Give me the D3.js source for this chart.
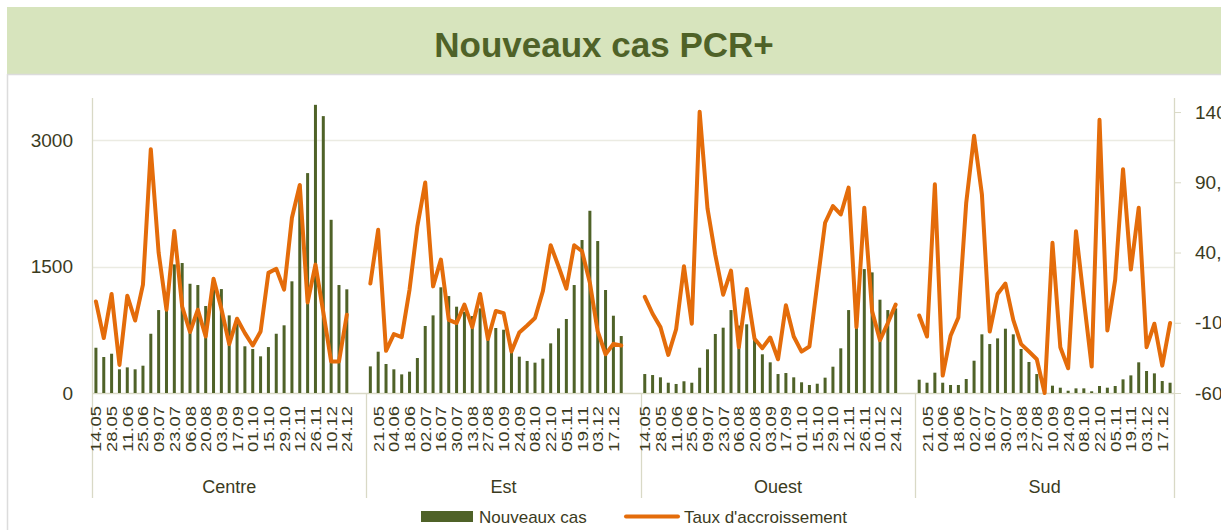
<!DOCTYPE html>
<html>
<head>
<meta charset="utf-8">
<script src="https://cdn.jsdelivr.net/npm/d3@7"></script>
<style>
  body { margin: 0; background: #fff; }
  text { font-family: "Liberation Sans", Arial, sans-serif; }
</style>
</head>
<body>
<div id="container"></div>
<script>

var regions = ["Centre", "Est", "Ouest", "Sud"];

var dates = ["14.05", "21.05", "28.05", "04.06", "11.06", "18.06", "25.06", "02.07", "09.07", "16.07",
    "23.07", "30.07", "06.08", "13.08", "20.08", "27.08", "03.09", "10.09", "17.09", "24.09",
    "01.10", "08.10", "15.10", "22.10", "29.10", "05.11", "12.11", "19.11", "26.11", "03.12",
    "10.12", "17.12", "24.12"];

// nouveaux cas (bars, left axis)
var casCentre = [537, 427, 466, 281, 304, 281, 324, 703, 984, 984, 1526, 1542, 1296, 1281, 1032, 1250, 1233,
    921, 880, 554, 522, 435, 545, 703, 803, 1325, 2475, 2609, 3419, 3285, 2055, 1281, 1230];
var casEst = [316, 490, 344, 281, 221, 253, 415, 795, 921, 1254, 1150, 1024, 964, 913, 1004, 739, 771,
    751, 490, 431, 380, 360, 407, 589, 767, 878, 1281, 1815, 2162, 1803, 1222, 917, 676];
var casOuest = [225, 213, 186, 122, 107, 139, 122, 300, 518, 700, 775, 984, 800, 815, 637, 459, 364,
    225, 237, 186, 127, 95, 110, 182, 312, 530, 984, 1000, 1470, 1431, 1107, 984, 1004];
var casSud = [158, 122, 241, 122, 95, 95, 166, 383, 696, 581, 648, 763, 696, 522, 368, 225, 15,
    87, 63, 27, 55, 55, 20, 83, 63, 83, 162, 209, 364, 261, 233, 142, 122];

// taux d'accroissement (line, right axis, %)
var tauxCentre = [5.2, -20.9, 10.5, -40, 9.3, -8.4, 17.1, 113.6, 39.8, -0.7, 55.4, 1.6, -16.6, -0.7, -19.8, 21.4, 0,
    -25.2, -7.1, -17.4, -26.2, -16.2, 25.5, 28.4, 13.6, 64.8, 88.1, 4.5, 31.4, -2.4, -37.6, -37.6, -4.3];
var tauxEst = [17.9, 56.2, -30, -18.1, -20.2, 13.6, 58.8, 89.8, 15.9, 35, -7.9, -10.2, 2.9, -13.1, 10.5, -21.6, -1.6,
    -3.1, -30.5, -16.9, -11.9, -6.6, 12.4, 45.2, 30.2, 14.3, 45.2, 40.9, 18.4, -16.2, -32.4, -25, -26.2];
var tauxOuest = [8.4, -3.6, -13.1, -32.9, -14.6, 30.2, -10.7, 140.2, 71.4, 38.1, 10, 27.1, -27.4, 14.1, -21.4, -28.1, -20.5,
    -36, 2.4, -19.8, -30.5, -26.9, 17.6, 61.2, 73.1, 67.1, 86.2, -13.1, 71.9, -1.9, -22.4, -10.2, 2.9];
var tauxSud = [-4.8, -19.8, 88.6, -47.6, -19.3, -6.2, 75.5, 123.1, 81.4, -16.2, 10.5, 17.9, -7.9, -25.2, -30.5, -36, -60,
    46.9, -27.4, -42.4, 55.2, 6.4, -41.2, 134.5, -15.5, 20.7, 99.3, 27.9, 71.9, -27.4, -10.7, -40.5, -10.2];

var casTicks = [0, 1500, 3000];
var tauxTicks = [-60, -10, 40, 90, 140];

var cas = [casCentre, casEst, casOuest, casSud];
var taux = [tauxCentre, tauxEst, tauxOuest, tauxSud];

var width = 1221,
    height = 530,
    plotLeft = 92,
    plotRight = 1174,
    plotTop = 98,
    plotBottom = 393;

var green = "#4f6228",
    orange = "#e46c0a",
    textColor = "#3b3b1e",
    axisColor = "#d9d9c6",
    gridColor = "#ebebe2";

// two empty slots after each region except the last
var slots = [];
var rows = [];
regions.forEach(function (r, g) {
    var n = dates.length + (g < regions.length - 1 ? 2 : 0);
    for (var i = 0; i < n; i++) {
        var key = r + "-" + i;
        slots.push(key);
        if (i < dates.length) {
            rows.push({ key: key, region: g, index: i, date: dates[i], cas: cas[g][i], taux: taux[g][i] });
        }
    }
});

var x = d3.scaleBand().domain(slots).range([plotLeft, plotRight]).padding(0);
var yCas = d3.scaleLinear().domain([0, 3500]).range([plotBottom, plotTop]);
var yTaux = d3.scaleLinear().domain([-60, 150]).range([plotBottom, plotTop]);

var svg = d3.select("div#container").append("svg")
    .attr("width", width)
    .attr("height", height);

// title banner
svg.append("rect")
    .attr("x", 7).attr("y", 7)
    .attr("width", width - 7).attr("height", 67)
    .attr("fill", "#d7e4bd");
svg.append("line")
    .attr("x1", 7).attr("x2", width)
    .attr("y1", 74.5).attr("y2", 74.5)
    .attr("stroke", "#dcdcdc").attr("stroke-width", 1.5);
svg.append("line")
    .attr("x1", 7.5).attr("x2", 7.5)
    .attr("y1", 74).attr("y2", height)
    .attr("stroke", "#dcdcdc").attr("stroke-width", 1.5);
svg.append("text")
    .attr("x", 604).attr("y", 57)
    .attr("text-anchor", "middle")
    .attr("font-size", 35)
    .attr("font-weight", "bold")
    .attr("fill", green)
    .text("Nouveaux cas PCR+");

// gridlines
svg.append("g")
    .selectAll("line")
    .data(casTicks.slice(1))
    .enter().append("line")
    .attr("x1", plotLeft).attr("x2", plotRight)
    .attr("y1", function (d) { return Math.round(yCas(d)) + 0.5; })
    .attr("y2", function (d) { return Math.round(yCas(d)) + 0.5; })
    .attr("stroke", gridColor).attr("stroke-width", 1.3);

// left axis
var leftAxis = svg.append("g")
    .attr("transform", "translate(" + plotLeft + ",0)")
    .call(d3.axisLeft(yCas).tickValues(casTicks).tickSize(0).tickPadding(19).tickFormat(d3.format("d")));
leftAxis.select(".domain").remove();
leftAxis.selectAll("text")
    .attr("font-size", 19)
    .attr("fill", textColor)
    .style("font-family", "'Liberation Sans', Arial, sans-serif");

// right axis (labels run past the picture edge, as in the original)
var rightAxis = svg.append("g")
    .attr("transform", "translate(" + plotRight + ",0)")
    .call(d3.axisRight(yTaux).tickValues(tauxTicks).tickSize(7).tickPadding(14)
        .tickFormat(function (d) { return d.toFixed(1).replace(".", ",") + "%"; }));
rightAxis.select(".domain").remove();
rightAxis.selectAll("line").attr("stroke", axisColor);
rightAxis.selectAll("text")
    .attr("font-size", 19)
    .attr("fill", textColor)
    .style("font-family", "'Liberation Sans', Arial, sans-serif");

// axis lines
svg.append("line")
    .attr("x1", plotLeft + 0.5).attr("x2", plotLeft + 0.5)
    .attr("y1", plotTop).attr("y2", 498)
    .attr("stroke", axisColor).attr("stroke-width", 1.3);
svg.append("line")
    .attr("x1", plotRight + 0.5).attr("x2", plotRight + 0.5)
    .attr("y1", plotTop).attr("y2", 498)
    .attr("stroke", axisColor).attr("stroke-width", 1.3);
svg.append("line")
    .attr("x1", plotLeft).attr("x2", plotRight)
    .attr("y1", plotBottom + 0.5).attr("y2", plotBottom + 0.5)
    .attr("stroke", axisColor).attr("stroke-width", 1.3);

// region separators and names
var groupStarts = regions.map(function (r) { return x(r + "-0"); });
svg.append("g")
    .selectAll("line")
    .data(groupStarts.slice(1))
    .enter().append("line")
    .attr("x1", function (d) { return Math.round(d) + 0.5; })
    .attr("x2", function (d) { return Math.round(d) + 0.5; })
    .attr("y1", plotBottom).attr("y2", 498)
    .attr("stroke", axisColor).attr("stroke-width", 1.3);

svg.append("g")
    .selectAll("text")
    .data(regions)
    .enter().append("text")
    .attr("x", function (d, i) {
        var end = i < regions.length - 1 ? groupStarts[i + 1] : plotRight;
        return (groupStarts[i] + end) / 2;
    })
    .attr("y", 493)
    .attr("text-anchor", "middle")
    .attr("font-size", 18)
    .attr("fill", textColor)
    .text(function (d) { return d; });

// date labels, every second slot across the whole axis
svg.append("g")
    .selectAll("text")
    .data(rows.filter(function (d) { return slots.indexOf(d.key) % 2 === 0; }))
    .enter().append("text")
    .attr("transform", function (d) {
        return "translate(" + (x(d.key) + x.bandwidth() / 2 + 5.5) + ",406) rotate(-90)";
    })
    .attr("text-anchor", "end")
    .attr("font-size", 15)
    .attr("textLength", 46)
    .attr("lengthAdjust", "spacingAndGlyphs")
    .attr("fill", textColor)
    .text(function (d) { return d.date; });

// bars
var barW = 3;
svg.append("g")
    .selectAll("rect")
    .data(rows)
    .enter().append("rect")
    .attr("x", function (d) { return x(d.key) + (x.bandwidth() - barW) / 2; })
    .attr("y", function (d) { return yCas(d.cas); })
    .attr("width", barW)
    .attr("height", function (d) { return plotBottom - yCas(d.cas); })
    .attr("fill", green);

// growth lines, one per region
var line = d3.line()
    .x(function (d) { return x(d.key) + x.bandwidth() / 2; })
    .y(function (d) { return yTaux(d.taux); });

svg.append("g")
    .selectAll("path")
    .data(regions.map(function (r, g) { return rows.filter(function (d) { return d.region === g; }); }))
    .enter().append("path")
    .attr("d", line)
    .attr("fill", "none")
    .attr("stroke", orange)
    .attr("stroke-width", 4)
    .attr("stroke-linejoin", "round")
    .attr("stroke-linecap", "round");

// legend
var legend = svg.append("g").attr("transform", "translate(0,516)");
legend.append("rect")
    .attr("x", 421).attr("y", -5)
    .attr("width", 52).attr("height", 11)
    .attr("fill", green);
legend.append("text")
    .attr("x", 479).attr("y", 6.5)
    .attr("font-size", 17)
    .attr("fill", textColor)
    .text("Nouveaux cas");
legend.append("line")
    .attr("x1", 626).attr("x2", 678)
    .attr("y1", 0.5).attr("y2", 0.5)
    .attr("stroke", orange).attr("stroke-width", 4)
    .attr("stroke-linecap", "round");
legend.append("text")
    .attr("x", 684).attr("y", 6.5)
    .attr("font-size", 17)
    .attr("fill", textColor)
    .text("Taux d'accroissement");

</script>
</body>
</html>
